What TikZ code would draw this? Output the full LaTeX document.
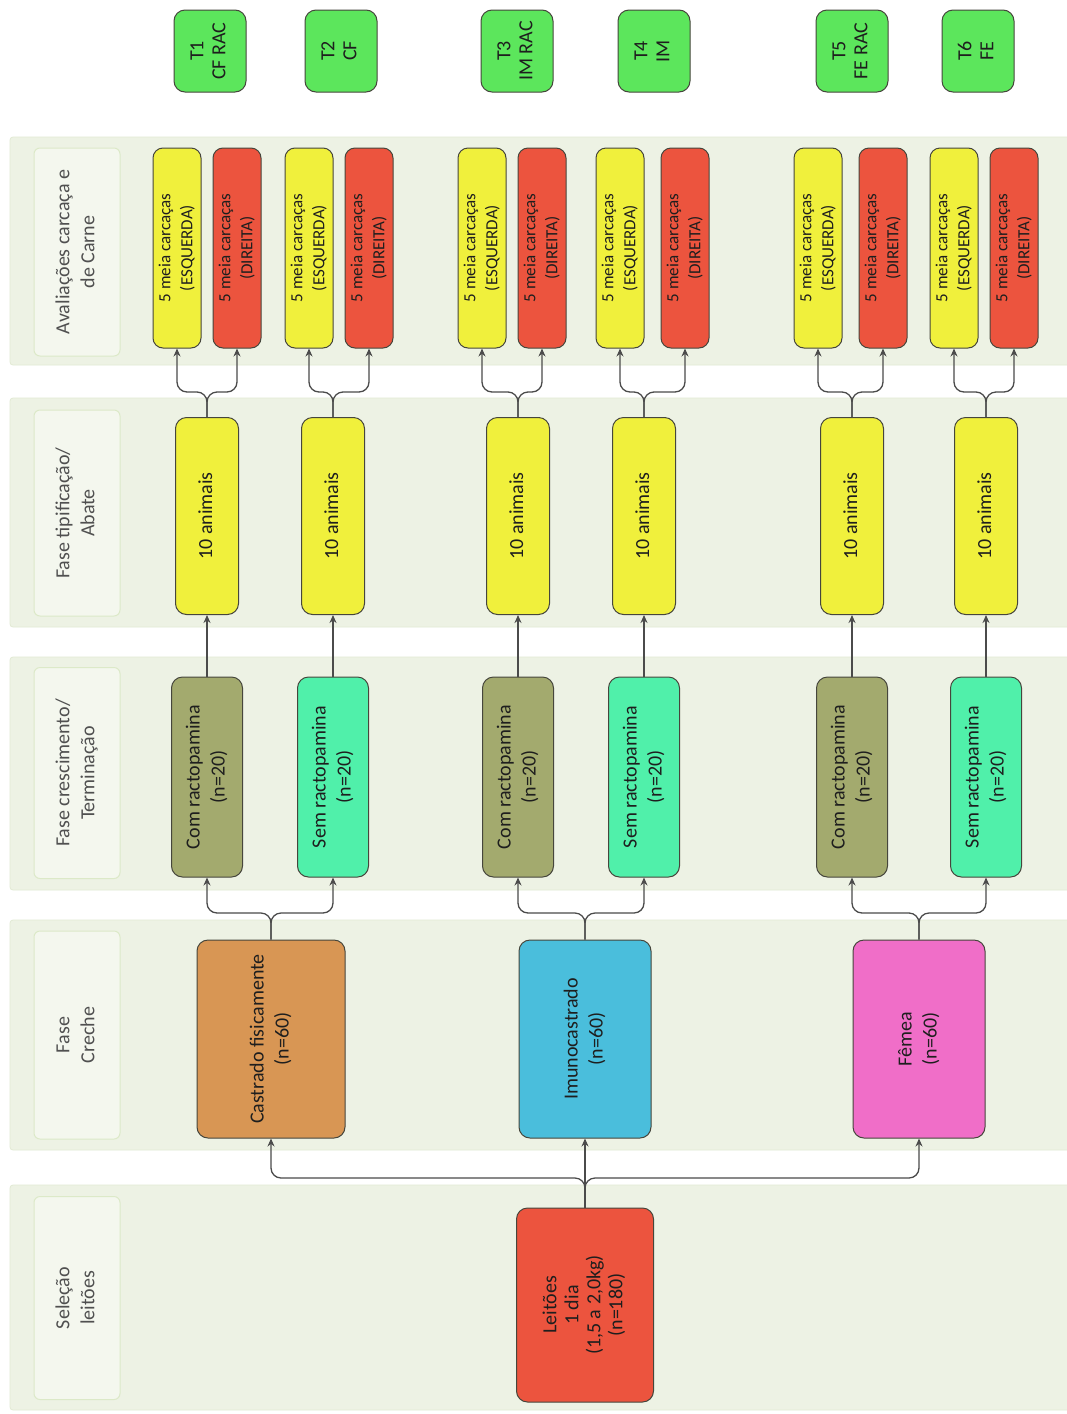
\documentclass[tikz,border=0pt]{standalone}
\usepackage{fontspec}
\setmainfont{Carlito}
\usetikzlibrary{arrows.meta}
\definecolor{bandc}{RGB}{237,242,228}
\definecolor{bandedge}{RGB}{226,234,212}
\definecolor{labc}{RGB}{244,247,238}
\definecolor{labedge}{RGB}{220,233,200}
\definecolor{labtext}{RGB}{80,80,80}
\definecolor{boxedge}{RGB}{70,70,60}
\definecolor{txt}{RGB}{30,30,30}
\definecolor{tgreen}{RGB}{92,230,92}
\definecolor{yel}{RGB}{240,240,60}
\definecolor{redb}{RGB}{236,84,62}
\definecolor{olive}{RGB}{163,170,110}
\definecolor{mint}{RGB}{80,240,170}
\definecolor{orangeb}{RGB}{216,150,84}
\definecolor{blueb}{RGB}{74,190,220}
\definecolor{pinkb}{RGB}{240,110,200}
\definecolor{linec}{RGB}{75,75,75}
\newcommand{\rt}[1]{\rotatebox{90}{\begin{tabular}{@{}c@{}}#1\end{tabular}}}
\tikzset{
  band/.style={fill=bandc, draw=bandedge, line width=0.8pt, rounded corners=3pt},
  lab/.style={fill=labc, draw=labedge, line width=1pt, rounded corners=6pt, text=labtext,
    minimum width=86pt, inner sep=0pt, font=\fontsize{20}{25}\selectfont},
  box/.style={draw=boxedge, line width=1pt, rounded corners=11pt, inner sep=0pt,
    text=txt, font=\fontsize{20}{25}\selectfont},
  tbox/.style={box, fill=tgreen, minimum width=72pt, minimum height=82pt, font=\fontsize{20}{22}\selectfont},
  cbox/.style={box, minimum width=48pt, minimum height=200pt, rounded corners=10pt, font=\fontsize{17}{22}\selectfont},
  ebox/.style={cbox, fill=yel},
  dbox/.style={cbox, fill=redb},
  abox/.style={box, fill=yel, minimum width=63pt, minimum height=197pt},
  gbox/.style={box, minimum width=71pt, minimum height=200pt},
  combox/.style={gbox, fill=olive},
  sembox/.style={gbox, fill=mint},
  crbox/.style={box, minimum width=132pt, minimum height=198pt},
  conn/.style={draw=linec, line width=1.3pt, rounded corners=10pt, -{Stealth[length=8pt,width=7pt]}},
  plain/.style={draw=linec, line width=1.3pt}
}
\begin{document}
\begin{tikzpicture}[x=1pt,y=-1pt]
\fill[white] (0,0) rectangle (1067,1414);
\useasboundingbox (0,0) rectangle (1067,1414);
% bands
\path[band] (10,137) rectangle (1070,365);
\path[band] (10,398) rectangle (1070,627);
\path[band] (10,657) rectangle (1070,890);
\path[band] (10,920) rectangle (1070,1150);
\path[band] (10,1185) rectangle (1070,1410);
% band labels
\node[lab, minimum height=208pt] (lA) at (77,252) {\rt{Avaliações carcaça e\\de Carne}};
\node[lab, minimum height=206pt] (lB) at (77,513) {\rt{Fase tipificação/\\Abate}};
\node[lab, minimum height=211pt] (lC) at (77,773) {\rt{Fase crescimento/\\Terminação}};
\node[lab, minimum height=208pt] (lD) at (77,1035) {\rt{Fase\\Creche}};
\node[lab, minimum height=203pt] (lE) at (77,1298) {\rt{Seleção\\leitões}};
% treatments
\node[tbox] (t1) at (210,51) {\rt{T1\\CF RAC}};
\node[tbox] (t2) at (341,51) {\rt{T2\\CF}};
\node[tbox] (t3) at (517,51) {\rt{T3\\IM RAC}};
\node[tbox] (t4) at (654,51) {\rt{T4\\IM}};
\node[tbox] (t5) at (852,51) {\rt{T5\\FE RAC}};
\node[tbox] (t6) at (978,51) {\rt{T6\\FE}};
% carcass evaluations
\node[ebox] (e1) at (177,248) {\rt{5 meia carcaças\\(ESQUERDA)}};
\node[dbox] (d1) at (237,248) {\rt{5 meia carcaças\\(DIREITA)}};
\node[ebox] (e2) at (309,248) {\rt{5 meia carcaças\\(ESQUERDA)}};
\node[dbox] (d2) at (369,248) {\rt{5 meia carcaças\\(DIREITA)}};
\node[ebox] (e3) at (482,248) {\rt{5 meia carcaças\\(ESQUERDA)}};
\node[dbox] (d3) at (542,248) {\rt{5 meia carcaças\\(DIREITA)}};
\node[ebox] (e4) at (620,248) {\rt{5 meia carcaças\\(ESQUERDA)}};
\node[dbox] (d4) at (685,248) {\rt{5 meia carcaças\\(DIREITA)}};
\node[ebox] (e5) at (818,248) {\rt{5 meia carcaças\\(ESQUERDA)}};
\node[dbox] (d5) at (883,248) {\rt{5 meia carcaças\\(DIREITA)}};
\node[ebox] (e6) at (954,248) {\rt{5 meia carcaças\\(ESQUERDA)}};
\node[dbox] (d6) at (1014,248) {\rt{5 meia carcaças\\(DIREITA)}};
% slaughter
\node[abox] (a1) at (207,516) {\rt{10 animais}};
\node[abox] (a2) at (333,516) {\rt{10 animais}};
\node[abox] (a3) at (518,516) {\rt{10 animais}};
\node[abox] (a4) at (644,516) {\rt{10 animais}};
\node[abox] (a5) at (852,516) {\rt{10 animais}};
\node[abox] (a6) at (986,516) {\rt{10 animais}};
% growth / finishing
\node[combox] (c1) at (207,777) {\rt{Com ractopamina\\(n=20)}};
\node[sembox] (c2) at (333,777) {\rt{Sem ractopamina\\(n=20)}};
\node[combox] (c3) at (518,777) {\rt{Com ractopamina\\(n=20)}};
\node[sembox] (c4) at (644,777) {\rt{Sem ractopamina\\(n=20)}};
\node[combox] (c5) at (852,777) {\rt{Com ractopamina\\(n=20)}};
\node[sembox] (c6) at (986,777) {\rt{Sem ractopamina\\(n=20)}};
% nursery
\node[crbox, fill=orangeb, minimum width=148pt] (cf) at (271,1039) {\rt{Castrado fisicamente\\(n=60)}};
\node[crbox, fill=blueb] (im) at (585,1039) {\rt{Imunocastrado\\(n=60)}};
\node[crbox, fill=pinkb] (fe) at (919,1039) {\rt{Fêmea\\(n=60)}};
% piglets
\node[box, fill=redb, minimum width=137pt, minimum height=194pt, font=\fontsize{20}{22}\selectfont] (le) at (585,1305) {\rt{Leitões\\1 dia\\(1,5 a 2,0kg)\\(n=180)}};
% junction levels
\coordinate (jL) at (0,1178);
\coordinate (jC) at (0,913);
\coordinate (jA) at (0,392);
% piglets -> nursery
\draw[conn] (le.north) -- (le.north |- jL) -- (cf.south |- jL) -- (cf.south);
\draw[conn] (le.north) -- (im.south);
\draw[conn] (le.north) -- (le.north |- jL) -- (fe.south |- jL) -- (fe.south);
% nursery -> growth
\draw[conn] (cf.north) -- (cf.north |- jC) -- (c1.south |- jC) -- (c1.south);
\draw[conn] (cf.north) -- (cf.north |- jC) -- (c2.south |- jC) -- (c2.south);
\draw[conn] (im.north) -- (im.north |- jC) -- (c3.south |- jC) -- (c3.south);
\draw[conn] (im.north) -- (im.north |- jC) -- (c4.south |- jC) -- (c4.south);
\draw[conn] (fe.north) -- (fe.north |- jC) -- (c5.south |- jC) -- (c5.south);
\draw[conn] (fe.north) -- (fe.north |- jC) -- (c6.south |- jC) -- (c6.south);
% growth -> slaughter
\foreach \i in {1,...,6} {\draw[conn] (c\i.north) -- (a\i.south);}
% slaughter -> carcass
\foreach \i in {1,...,6} {
  \draw[conn] (a\i.north) -- (a\i.north |- jA) -- (e\i.south |- jA) -- (e\i.south);
  \draw[conn] (a\i.north) -- (a\i.north |- jA) -- (d\i.south |- jA) -- (d\i.south);
}
\end{tikzpicture}
\end{document}
